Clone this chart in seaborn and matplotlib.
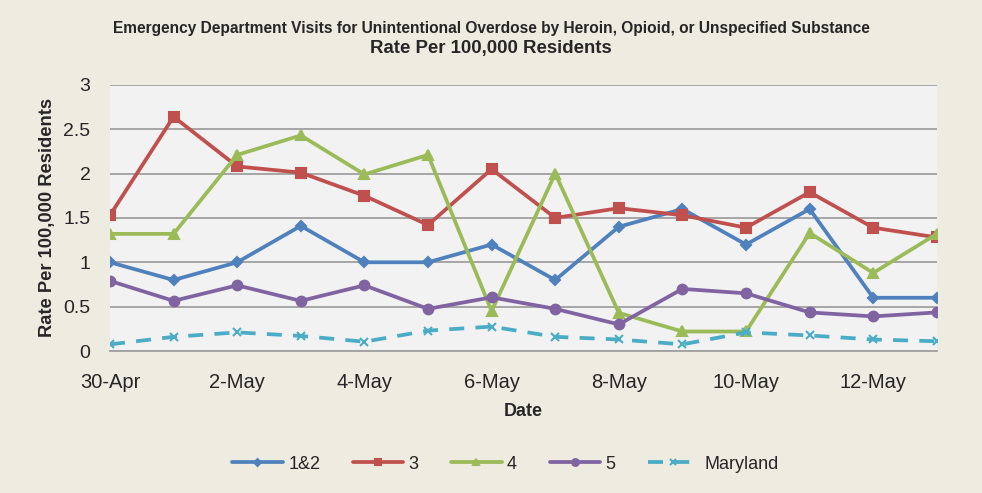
import numpy as np
import pandas as pd
import matplotlib
matplotlib.use("Agg")
import matplotlib.pyplot as plt
import seaborn as sns

# data
dates = ["30-Apr", "1-May", "2-May", "3-May", "4-May", "5-May", "6-May",
         "7-May", "8-May", "9-May", "10-May", "11-May", "12-May", "13-May"]
region_12 = [1.0, 0.8, 1.0, 1.41, 1.0, 1.0, 1.2, 0.8, 1.4, 1.6, 1.2, 1.6, 0.6, 0.6]
region_3 = [1.53, 2.64, 2.08, 2.01, 1.75, 1.42, 2.05, 1.5, 1.61, 1.53, 1.39, 1.79, 1.39, 1.28]
region_4 = [1.32, 1.32, 2.21, 2.43, 1.99, 2.21, 0.45, 2.0, 0.43, 0.22, 0.22, 1.33, 0.88, 1.32]
region_5 = [0.79, 0.565, 0.74, 0.565, 0.74, 0.475, 0.605, 0.475, 0.3, 0.7, 0.65, 0.435, 0.39, 0.435]
maryland = [0.075, 0.16, 0.21, 0.17, 0.105, 0.23, 0.275, 0.16, 0.13, 0.075, 0.21, 0.175, 0.13, 0.11]

series_names = ["1&2", "3", "4", "5", "Maryland"]
series_vals = [region_12, region_3, region_4, region_5, maryland]
colors = ["#4F81BD", "#C0504D", "#9BBB59", "#8064A2", "#4BACC6"]
markers = ["D", "s", "^", "o", "x"]
msizes = [5, 7, 7, 7, 6]

sns.set_style("white")
plt.rcParams["font.family"] = ["Liberation Sans Narrow", "Liberation Sans", "DejaVu Sans"]

fig = plt.figure(figsize=(9.82, 4.93), dpi=100, facecolor="#EEEBE0")
ax = fig.add_axes([0.112, 0.288, 0.842, 0.54])
ax.set_facecolor("#F2F2F2")

x = np.arange(len(dates))
for name, vals, c, m, ms in zip(series_names, series_vals, colors, markers, msizes):
    df = pd.DataFrame({"x": x, "y": vals})
    ls = (0, (4, 3)) if name == "Maryland" else "-"
    sns.lineplot(data=df, x="x", y="y", ax=ax, color=c, linewidth=2.7,
                 linestyle=ls, marker=m, markersize=ms, markeredgecolor=c,
                 markeredgewidth=1.5, label=name)

ax.set_xlim(0, len(dates) - 1)
ax.set_ylim(0, 3)
ax.set_yticks(np.arange(0, 3.01, 0.5))
ax.set_yticklabels(["0", "0.5", "1", "1.5", "2", "2.5", "3"])
ax.set_xticks(x[::2])
ax.set_xticklabels(dates[::2])
ax.grid(axis="y", color="#A0A0A0", linewidth=1.3)
ax.set_axisbelow(True)
for s in ["top", "right", "left"]:
    ax.spines[s].set_visible(False)
ax.spines["bottom"].set_color("#A0A0A0")
ax.spines["bottom"].set_linewidth(1.3)
ax.tick_params(axis="x", direction="in", length=5, color="#A0A0A0",
               labelsize=14.5, pad=16)
ax.tick_params(axis="y", length=0, labelsize=14, pad=14)

ax.set_xlabel("Date", fontsize=13, fontweight="bold", labelpad=8)
ax.set_ylabel("Rate Per 100,000 Residents", fontsize=13.2, fontweight="bold", labelpad=5)

fig.text(0.5, 0.943, "Emergency Department Visits for Unintentional Overdose by Heroin, Opioid, or Unspecified Substance",
         ha="center", va="center", fontsize=11.2, fontweight="bold")
fig.text(0.5, 0.902, "Rate Per 100,000 Residents", ha="center", va="center",
         fontsize=13.4, fontweight="bold")

ax.legend(loc="center", bbox_to_anchor=(0.478, -0.425), ncol=5, frameon=False,
          fontsize=13, handlelength=2.8, columnspacing=1.8, handletextpad=0.3,
          markerscale=0.7)

fig.savefig("out.png", dpi=100, facecolor=fig.get_facecolor())
